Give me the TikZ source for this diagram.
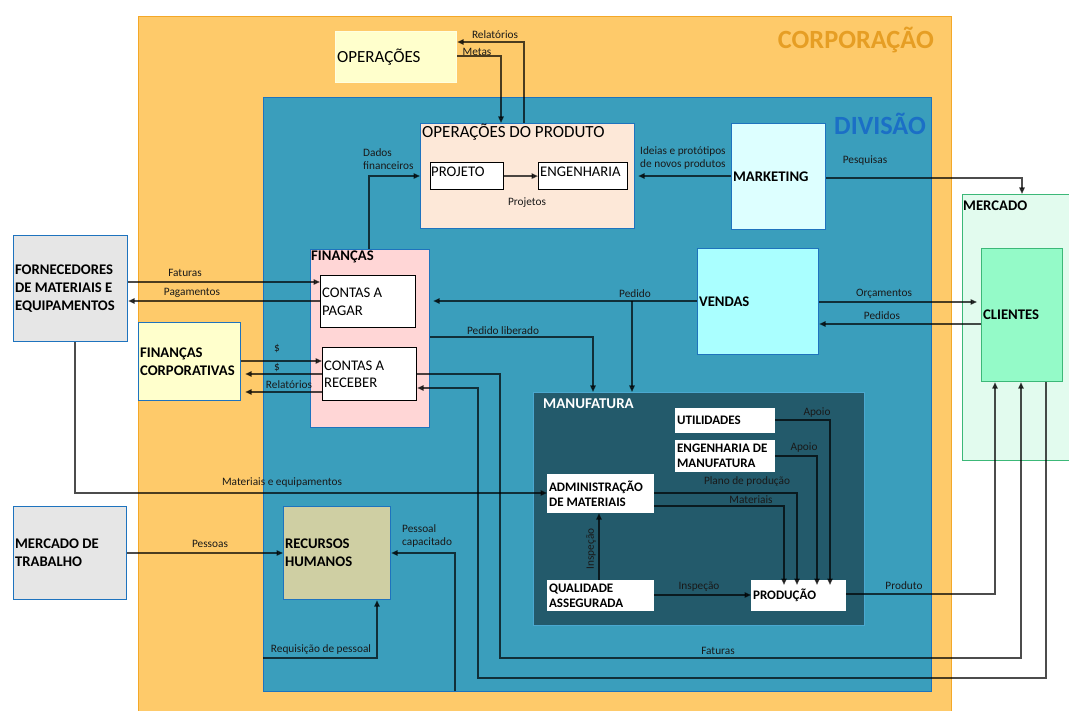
\documentclass[tikz,border=0pt]{standalone}
\usepackage{fontspec}
\setmainfont{Carlito}
\usetikzlibrary{arrows.meta}
\definecolor{corpfill}{RGB}{254,202,106}
\definecolor{corpline}{RGB}{244,168,40}
\definecolor{corptext}{RGB}{230,158,36}
\definecolor{divfill}{RGB}{58,158,188}
\definecolor{divline}{RGB}{30,115,190}
\definecolor{divtext}{RGB}{27,111,198}
\definecolor{opfill}{RGB}{255,255,204}
\definecolor{peach}{RGB}{253,232,216}
\definecolor{mktfill}{RGB}{221,255,255}
\definecolor{vendfill}{RGB}{170,255,255}
\definecolor{merfill}{RGB}{226,251,238}
\definecolor{merline}{RGB}{60,184,120}
\definecolor{clifill}{RGB}{148,250,200}
\definecolor{finfill}{RGB}{255,214,214}
\definecolor{grayfill}{RGB}{230,230,230}
\definecolor{manfill}{RGB}{35,90,107}
\definecolor{manline}{RGB}{75,168,208}
\definecolor{rhfill}{RGB}{207,207,163}
\begin{document}
\begin{tikzpicture}[x=1pt,y=-1pt,
  region/.style={anchor=north west, inner sep=0pt, line width=1pt},
  bluebox/.style={anchor=north west, draw=divline, line width=1.2pt, inner xsep=1.5pt, inner ysep=0pt, align=flush left, text=black},
  whitebox/.style={anchor=north west, draw=black, fill=white, line width=1.2pt, inner xsep=1.5pt, inner ysep=0pt, align=flush left, text=black},
  txt/.style={font=\fontsize{14.7}{17.5}\selectfont},
  btxt/.style={font=\bfseries\fontsize{14.7}{18}\selectfont},
  mtxt/.style={font=\bfseries\fontsize{13}{15}\selectfont},
  bigtxt/.style={font=\fontsize{17}{20}\selectfont},
  ttl/.style={font=\bfseries\fontsize{26.3}{31}\selectfont, inner sep=0pt},
  intitle/.style={inner sep=0pt, anchor=west, text=black},
  lbl/.style={font=\fontsize{11.3}{13.5}\selectfont, inner sep=0pt, text=black!90},
  conn/.style={draw=black, opacity=0.7, line width=1.4pt, -{Triangle[length=6.5pt,width=5.5pt]}}
]
\useasboundingbox (0,0) rectangle (1069,711);

% regions
\node[region, draw=corpline, fill=corpfill, minimum width=813pt, minimum height=700pt] (corp) at (138,16) {};
\node[ttl, anchor=east, text=corptext] (corpt) at (934,40) {CORPORAÇÃO};
\node[region, draw=divline, fill=divfill, minimum width=668pt, minimum height=594pt] (div) at (263,97) {};
\node[ttl, anchor=east, text=divtext] (divt) at (926,124) {DIVISÃO};
\node[region, draw=merline, fill=merfill, minimum width=130pt, minimum height=266pt] (mercado) at (962,194) {};
\node[intitle, btxt] (mercadot) at (963,206) {MERCADO};

% top
\node[bluebox, bigtxt, draw=opfill!60!white, fill=opfill, minimum width=121pt, minimum height=51pt, text width=118pt] (oper) at (335,31) {OPERAÇÕES};
\node[bluebox, fill=peach, minimum width=214pt, minimum height=105pt] (opprod) at (420,123) {};
\node[intitle, bigtxt] (opprodt) at (422,132) {OPERAÇÕES DO PRODUTO};
\node[whitebox, minimum width=73pt, minimum height=27pt] (projeto) at (430,162) {};
\node[intitle, txt] (projetot) at (431,172) {PROJETO};
\node[whitebox, minimum width=89pt, minimum height=27pt] (eng) at (538,162) {};
\node[intitle, txt] (engt) at (540,172) {ENGENHARIA};
\node[bluebox, btxt, fill=mktfill, minimum width=94pt, minimum height=106pt, text width=91pt] (mkt) at (731,123) {MARKETING};
\node[bluebox, btxt, fill=vendfill, minimum width=121pt, minimum height=106pt, text width=118pt] (vendas) at (697,248) {VENDAS};
\node[bluebox, btxt, draw=merline, fill=clifill, minimum width=81pt, minimum height=133pt, text width=78pt] (clientes) at (981,248) {CLIENTES};

% finance
\node[bluebox, fill=finfill, minimum width=119pt, minimum height=178pt] (fin) at (310,249) {};
\node[intitle, btxt] (fint) at (311,257) {FINANÇAS};
\node[whitebox, txt, minimum width=95pt, minimum height=52pt, text width=92pt] (cap) at (320,275) {CONTAS A\\PAGAR};
\node[whitebox, txt, minimum width=94pt, minimum height=53pt, text width=91pt] (car) at (322,347) {CONTAS A\\RECEBER};
\node[bluebox, btxt, fill=grayfill, minimum width=114pt, minimum height=106pt, text width=111pt] (fornec) at (13,235) {FORNECEDORES\\DE MATERIAIS E\\EQUIPAMENTOS};
\node[bluebox, btxt, fill=opfill, minimum width=102pt, minimum height=78pt, text width=99pt] (fincorp) at (138,322) {FINANÇAS\\CORPORATIVAS};

% manufatura
\node[region, draw=manline, fill=manfill, line width=1.2pt, minimum width=331pt, minimum height=233pt] (manuf) at (533,392) {};
\node[intitle, font=\bfseries\fontsize{15}{18}\selectfont, text=white] (manuft) at (543,404) {MANUFATURA};
\node[whitebox, mtxt, draw=white, minimum width=99pt, minimum height=24pt, text width=96pt] (util) at (675,408) {UTILIDADES};
\node[whitebox, mtxt, draw=white, minimum width=99pt, minimum height=31pt, text width=96pt] (engman) at (675,440) {ENGENHARIA DE\\MANUFATURA};
\node[whitebox, mtxt, draw=white, minimum width=106pt, minimum height=38pt, text width=103pt] (admin) at (547,474) {ADMINISTRAÇÃO\\DE MATERIAIS};
\node[whitebox, mtxt, draw=white, minimum width=106pt, minimum height=30pt, text width=103pt] (qa) at (547,580) {QUALIDADE\\ASSEGURADA};
\node[whitebox, mtxt, draw=white, minimum width=94pt, minimum height=30pt, text width=91pt] (prod) at (751,580) {PRODUÇÃO};

% people
\node[bluebox, btxt, fill=grayfill, minimum width=113pt, minimum height=93pt, text width=110pt] (mtrab) at (13,506) {MERCADO DE\\TRABALHO};
\node[bluebox, btxt, fill=rhfill, minimum width=107pt, minimum height=93pt, text width=104pt] (rh) at (283,506) {RECURSOS\\HUMANOS};

% free ends
\coordinate (pedbr) at (632,301);
\coordinate (pcap) at (455,691);
\coordinate (req) at (263,658);

% connectors
\draw[conn] (opprod.north -| 524,0) |- (oper.east |- 0,42);
\draw[conn] (oper.east |- 0,56) -| (opprod.north -| 501,0);
\draw[conn] (projeto) -- (eng);
\draw[conn] (mkt.west |- 0,176) -- ([xshift=3pt]opprod.east |- 0,176);
\draw[conn] (mkt.east |- 0,178) -| (mercado.north -| 1022,0);
\draw[conn] (vendas.east |- 0,302) -- ([xshift=-4pt]clientes.west |- 0,302);
\draw[conn] (clientes.west |- 0,324) -- (vendas.east |- 0,324);
\draw[conn] (vendas.west |- 0,301) -- ([xshift=3pt]fin.east |- 0,301);
\draw[conn] (pedbr) -- (manuf.north -| pedbr);
\draw[conn] (fin.east |- 0,337) -| (manuf.north -| 593,0);
\draw[conn] (fin.north -| 369,0) |- (opprod.west |- 0,176);
\draw[conn] (fornec.east |- 0,282) -- (cap.west |- 0,282);
\draw[conn] (cap.west |- 0,301) -- (fornec.east |- 0,301);
\draw[conn] (fincorp.east |- 0,361) -- (car.west |- 0,361);
\draw[conn] (car.west |- 0,374) -- ([xshift=4pt]fincorp.east |- 0,374);
\draw[conn] (car.west |- 0,392) -- ([xshift=4pt]fincorp.east |- 0,392);
\draw[conn] (car.east |- 0,374) -| (500,658) -| (clientes.south -| 1021,0);
\draw[conn] (clientes.south -| 1046,0) |- (478,678) |- (car.east |- 0,388);
\draw[conn] (prod.east |- 0,594) -| (clientes.south -| 995,0);
\draw[conn] (fornec.south -| 75,0) |- (admin.west |- 0,493);
\draw[conn] (mtrab.east |- 0,553) -- (rh.west |- 0,553);
\draw[conn] (pcap) |- (rh.east |- 0,553);
\draw[conn] (req) -| (rh.south -| 377,0);
\draw[conn] (util.east |- 0,420) -| ([yshift=-5pt]prod.north -| 830,0);
\draw[conn] (engman.east |- 0,456) -| ([yshift=-5pt]prod.north -| 817,0);
\draw[conn] (admin.east |- 0,493) -| ([yshift=-5pt]prod.north -| 797,0);
\draw[conn] (admin.east |- 0,506) -| ([yshift=-5pt]prod.north -| 784,0);
\draw[conn] (qa.north -| 599,0) -- (admin.south -| 599,0);
\draw[conn] (qa.east |- 0,595) -- (prod.west |- 0,595);

% labels
\node[lbl] (l1) at (495,35) {Relatórios};
\node[lbl] (l2) at (477,52) {Metas};
\node[lbl, anchor=west, align=flush left] (l3) at (363,159) {Dados\\financeiros};
\node[lbl] (l4) at (527,203) {Projetos};
\node[lbl, anchor=west, align=flush left] (l5) at (640,158) {Ideias e protótipos\\de novos produtos};
\node[lbl] (l6) at (865,161) {Pesquisas};
\node[lbl] (l7) at (884,294) {Orçamentos};
\node[lbl] (l8) at (882,316) {Pedidos};
\node[lbl] (l9) at (635,294) {Pedido};
\node[lbl] (l10) at (503,331) {Pedido liberado};
\node[lbl] (l11) at (185,273) {Faturas};
\node[lbl] (l12) at (192,293) {Pagamentos};
\node[lbl] (l13) at (277,349) {\$};
\node[lbl] (l14) at (277,368) {\$};
\node[lbl] (l15) at (289,385) {Relatórios};
\node[lbl] (l16) at (282,483) {Materiais e equipamentos};
\node[lbl] (l17) at (210,544) {Pessoas};
\node[lbl, anchor=west, align=flush left] (l18) at (402,536) {Pessoal\\capacitado};
\node[lbl] (l19) at (321,650) {Requisição de pessoal};
\node[lbl] (l20) at (718,651) {Faturas};
\node[lbl] (l21) at (904,586) {Produto};
\node[lbl] (l22) at (817,413) {Apoio};
\node[lbl] (l23) at (804,448) {Apoio};
\node[lbl] (l24) at (747,482) {Plano de produção};
\node[lbl] (l25) at (751,500) {Materiais};
\node[lbl] (l26) at (699,587) {Inspeção};
\node[lbl, rotate=90] (l27) at (591,549) {Inspeção};
\end{tikzpicture}
\end{document}
